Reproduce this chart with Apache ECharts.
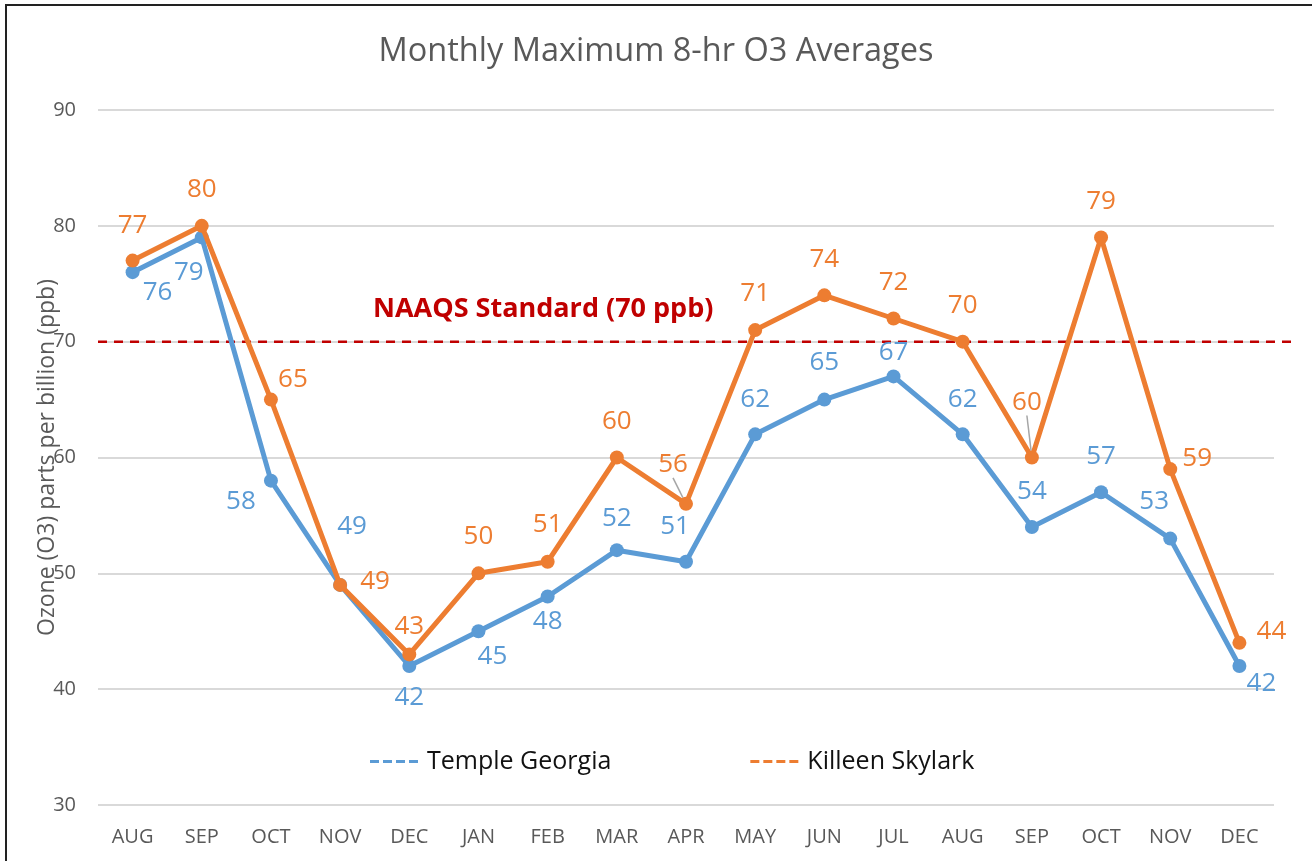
<!DOCTYPE html>
<html><head><meta charset="utf-8">
<script src="https://cdn.jsdelivr.net/npm/echarts@6/dist/echarts.min.js"></script>
<style>html,body{margin:0;padding:0;background:#fff}#c{width:1312px;height:861px}</style>
</head><body><div id="c"></div>
<script>
const categories = ['AUG','SEP','OCT','NOV','DEC','JAN','FEB','MAR','APR','MAY','JUN','JUL','AUG','SEP','OCT','NOV','DEC'];
const templeGeorgia = [76,79,58,49,42,45,48,52,51,62,65,67,62,54,57,53,42];
const killeenSkylark = [77,80,65,49,43,50,51,60,56,71,74,72,70,60,79,59,44];
const standardValue = 70;
const yTicks = [30,40,50,60,70,80,90];

// label offsets from each point (style only, pixels)
const templeLabelOffset = [[25,20],[-13,35],[-30,21],[12,-58],[0,32],[14,25],[0,25],[0,-32],[-11,-35],[0,-35],[0,-37],[0,-24],[0,-35],[0,-35],[0,-36],[-16,-37],[22,18]];
const killeenLabelOffset = [[0,-35],[0,-36],[22,-20],[35,-3],[0,-28],[0,-37],[0,-37],[0,-36],[-13,-39],[0,-36],[0,-36],[0,-36],[0,-36],[-5,-55],[0,-36],[27,-10],[32,-11]];
const killeenLeader = [8,13];

const BLUE='#5B9BD5', ORANGE='#ED7D31';
function mk(vals,offs,color,leaders){
  return vals.map((v,i)=>{
    const lead = leaders && leaders.indexOf(i)>=0;
    const d={value:v,label:{show:true,position:'inside',offset:offs?offs[i]:[0,0],color:color,fontSize:26,fontFamily:'Open Sans'}};
    if(lead){
      d.labelLine={show:true,lineStyle:{color:'#A6A6A6',width:1.5}};
    }
    return d;
  });
}
const chart = echarts.init(document.getElementById('c'));
chart.setOption({
  animation:false,
  backgroundColor:'#fff',
  title:[
    {text:'Monthly Maximum 8-hr O3 Averages',left:'center',top:30,textStyle:{color:'#595959',fontSize:32.5,fontWeight:'normal',fontFamily:'Open Sans'}},
    {text:'NAAQS Standard (70 ppb)',left:368,top:291,textStyle:{color:'#C00000',fontSize:27,fontWeight:'bold',fontFamily:'Open Sans'}}
  ],
  graphic:[{type:'rect',shape:{x:6,y:5,width:1400,height:900},style:{fill:'none',stroke:'#222',lineWidth:2}}],
  legend:{
    top:744,left:365,itemGap:139,itemWidth:48,itemHeight:3,
    data:[{name:'Temple Georgia'},{name:'Killeen Skylark'}],
    icon:'path://M0,0h9v3h-9z M13,0h9v3h-9z M26,0h9v3h-9z M39,0h9v3h-9z',
    textStyle:{color:'#111',fontSize:25,fontFamily:'Open Sans',padding:[0,0,0,4]}
  },
  grid:[
    {left:98,right:38,top:110,bottom:56},
    {left:98,right:16,top:110,bottom:56}
  ],
  xAxis:[
    {type:'category',data:categories,gridIndex:0,boundaryGap:true,
     axisLine:{show:false},axisTick:{show:false},
     axisLabel:{color:'#595959',fontSize:20,fontFamily:'Open Sans',margin:22,interval:0}},
    {type:'value',gridIndex:1,min:0,max:1,show:false}
  ],
  yAxis:[
    {type:'value',gridIndex:0,min:yTicks[0],max:yTicks[yTicks.length-1],interval:10,
     name:'Ozone (O3) parts per billion (ppb)',nameLocation:'middle',nameGap:39,nameRotate:90,nameMoveOverlap:false,
     nameTextStyle:{color:'#595959',fontSize:23,fontFamily:'Open Sans'},
     axisLine:{show:false},axisTick:{show:false},
     axisLabel:{color:'#595959',fontSize:20,fontFamily:'Open Sans',margin:22},
     splitLine:{lineStyle:{color:'#D9D9D9',width:2}}},
    {type:'value',gridIndex:1,min:yTicks[0],max:yTicks[yTicks.length-1],show:false}
  ],
  series:[
    {name:'NAAQS',type:'line',xAxisIndex:1,yAxisIndex:1,data:[[0,standardValue],[1,standardValue]],
     symbol:'none',lineStyle:{color:'#C00000',width:2.5,type:[9,7]},silent:true,z:1},
    {name:'Temple Georgia',type:'line',data:mk(templeGeorgia,templeLabelOffset,BLUE),
     symbol:'circle',symbolSize:14,itemStyle:{color:BLUE},lineStyle:{color:BLUE,width:5},z:3},
    {name:'Killeen Skylark',type:'line',data:mk(killeenSkylark,null,ORANGE,killeenLeader),
     symbol:'circle',symbolSize:14,itemStyle:{color:ORANGE},lineStyle:{color:ORANGE,width:5},z:4,
     labelLine:{show:false},
     labelLayout:function(p){
       const o=killeenLabelOffset[p.dataIndex];
       return {dx:o[0],dy:o[1]};
     }}
  ]
});
</script></body></html>
